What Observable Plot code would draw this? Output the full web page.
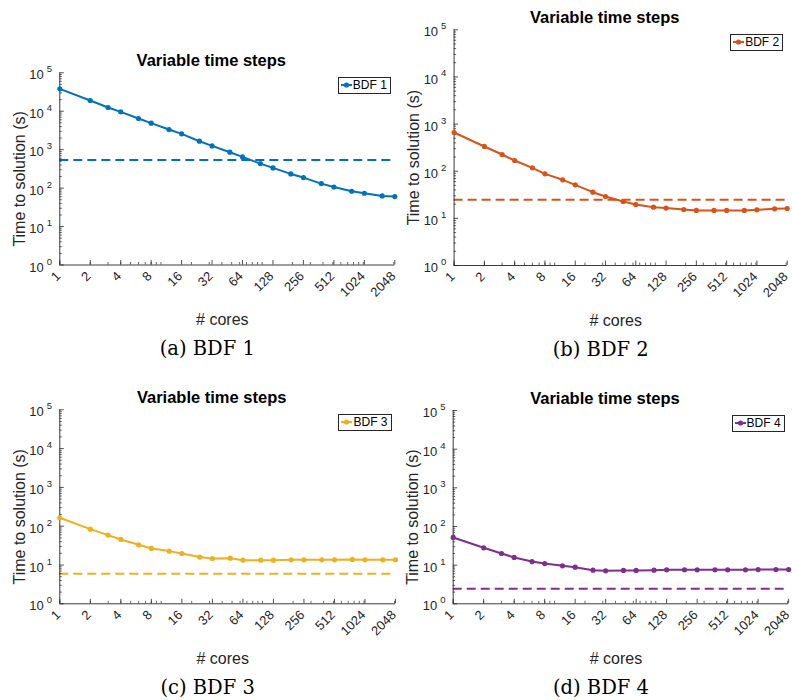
<!DOCTYPE html>
<html><head><meta charset="utf-8">
<script src="https://cdn.jsdelivr.net/npm/d3@7"></script>
<script src="https://cdn.jsdelivr.net/npm/@observablehq/plot@0.6"></script>
<style>
body{margin:0;background:#fff;}
#root{position:relative;width:792px;height:700px;overflow:hidden;font-family:"Liberation Sans",Arial,sans-serif;background:#fff;}
.panel{position:absolute;}
.panel svg{overflow:visible;}
.legend{position:absolute;border:1px solid #262626;background:#fff;font-size:12px;color:#000;display:flex;align-items:center;height:15px;padding:0 3px 0 2px;line-height:15px;white-space:nowrap;}
.legend svg{margin-right:1px;}
</style></head><body><div id="root"></div><script>
// ---- data ----
const cores = [1,2,3,4,6,8,12,16,24,32,48,64,96,128,192,256,384,512,768,1024,1536,2048];
const bdf1 = [38300,19000,12500,9650,6470,4890,3340,2580,1660,1255,859,649,435,336,234,188,131,107,82.8,73.5,62.6,60.2];
const bdf2 = [663,335,226,169,118,88,65.7,51.4,35.9,29.1,22.8,19.7,17.3,16.5,15.4,14.7,14.7,14.7,14.7,15.2,15.9,16.2];
const bdf3 = [165,84,58.9,45.5,33.2,26.7,22.8,19.8,16.0,14.7,15.0,13.3,13.3,13.3,13.6,13.6,13.6,13.6,13.9,13.6,13.6,13.6];
const bdf4 = [52,28.1,20.0,15.8,12.4,11.0,9.6,8.87,7.42,7.13,7.28,7.28,7.42,7.57,7.57,7.57,7.57,7.57,7.57,7.7,7.7,7.7];
const refTimes = [542, 24.7, 5.93, 2.44];
const seriesNames = ["BDF 1","BDF 2","BDF 3","BDF 4"];
const captions = ["(a) BDF 1","(b) BDF 2","(c) BDF 3","(d) BDF 4"];
const xTicks = [1,2,4,8,16,32,64,128,256,512,1024,2048];
const yTicks = [1,10,100,1000,10000,100000];
const titleText = "Variable time steps";
const xLabel = "# cores";
const yLabel = "Time to solution (s)";
const series = [bdf1,bdf2,bdf3,bdf4];

// ---- styles / layout ----
const colors = ["#0072BD","#D95319","#EDB120","#7E2F8E"];
const xMinor = [];
for (const p of [1,10,100,1000]) for (let k=1;k<=9;k++){const v=k*p; if(v>=1&&v<=2048) xMinor.push(v);}
const yMinor = [];
for (const p of [1,10,100,1000,10000]) for (let k=2;k<=9;k++) yMinor.push(k*p);
const layout = [
  {left:0,   top:0,   w:396, h:360, mL:59.3, mR:1.7, mT:72.3, mB:95.5},
  {left:396, top:0,   w:396, h:360, mL:57.6, mR:5.3, mT:29.3, mB:95},
  {left:0,   top:370, w:396, h:330, mL:59.3, mR:1,   mT:39.3, mB:96.7},
  {left:396, top:370, w:396, h:330, mL:56.7, mR:3.9, mT:40,   mB:96.7}
];
const axisColor = "#262626";
const root = document.getElementById("root");

layout.forEach((cfg,i)=>{
  const rows = cores.map((c,j)=>({cores:c, t:series[i][j]}));
  const innerW = cfg.w - cfg.mL - cfg.mR, innerH = cfg.h - cfg.mT - cfg.mB;
  const color = colors[i];
  const chart = Plot.plot({
    width: cfg.w, height: cfg.h,
    marginLeft: cfg.mL, marginRight: cfg.mR, marginTop: cfg.mT, marginBottom: cfg.mB,
    style: {fontFamily: "'Liberation Sans', Arial, sans-serif", fontSize: "13px", color: axisColor, background: "transparent", overflow: "visible"},
    x: {type: "log", domain: [1, 2048], axis: null},
    y: {type: "log", domain: [1, 1e5], axis: null},
    marks: [
      Plot.ruleY([refTimes[i]], {stroke: color, strokeWidth: 2, strokeDasharray: "9,5"}),
      Plot.tickX(xMinor, {x: d=>d, insetTop: innerH - 2.5, stroke: axisColor, strokeWidth: 0.7}),
      Plot.tickX(xTicks, {x: d=>d, insetTop: innerH - 4.5, stroke: axisColor, strokeWidth: 0.8}),
      Plot.tickY(yMinor, {y: d=>d, insetRight: innerW - 2.5, stroke: axisColor, strokeWidth: 0.7}),
      Plot.tickY(yTicks, {y: d=>d, insetRight: innerW - 4.5, stroke: axisColor, strokeWidth: 0.8}),
      Plot.ruleX([1], {stroke: axisColor, strokeWidth: 0.9}),
      Plot.ruleY([1], {stroke: axisColor, strokeWidth: 0.9}),
      Plot.text(xTicks, {x: d=>d, frameAnchor: "bottom", text: d=>String(d), rotate: -45, textAnchor: "end", lineAnchor: "middle", dx: -1.5, dy: 9, fontSize: 13, fill: axisColor}),
      Plot.text(yTicks, {y: d=>d, frameAnchor: "left", text: ()=>"10", textAnchor: "end", lineAnchor: "middle", dx: -16, dy: 2.5, fontSize: 13, fill: axisColor}),
      Plot.text(yTicks, {y: d=>d, frameAnchor: "left", text: d=>String(Math.round(Math.log10(d))), textAnchor: "start", lineAnchor: "middle", dx: -13, dy: -3.5, fontSize: 9.5, fill: axisColor}),
      Plot.line(rows, {x: "cores", y: "t", stroke: color, strokeWidth: 2}),
      Plot.dot(rows, {x: "cores", y: "t", r: 2.6, fill: color, stroke: null}),
      Plot.text([titleText], {frameAnchor: "top", textAnchor: "middle", lineAnchor: "middle", dx: -16, dy: -12, fontWeight: "bold", fontSize: 16.5, fill: "#000"}),
      Plot.text([xLabel], {frameAnchor: "bottom", textAnchor: "middle", lineAnchor: "middle", dx: -5, dy: 55, fontSize: 16, fill: axisColor}),
      Plot.text([yLabel], {frameAnchor: "left", textAnchor: "middle", lineAnchor: "middle", rotate: -90, dx: -40, dy: 10, fontSize: 16, fill: axisColor}),
      Plot.text([captions[i]], {frameAnchor: "bottom", textAnchor: "middle", lineAnchor: "middle", dx: -20, dy: 84, fontSize: 19.5, fontFamily: "'DejaVu Serif', serif", fill: "#000"})
    ]
  });
  const div = document.createElement("div");
  div.className = "panel";
  div.style.left = cfg.left + "px";
  div.style.top = cfg.top + "px";
  div.style.width = cfg.w + "px";
  div.style.height = cfg.h + "px";
  div.appendChild(chart);
  // legend
  const lg = document.createElement("div");
  lg.className = "legend";
  lg.style.right = (cfg.mR + 3.5) + "px";
  lg.style.top = (cfg.mT + 4.5) + "px";
  lg.innerHTML = `<svg width="11" height="8"><line x1="0" x2="11" y1="4" y2="4" stroke="${color}" stroke-width="2"/><circle cx="5.5" cy="4" r="2.6" fill="${color}"/></svg><span>${seriesNames[i]}</span>`;
  div.appendChild(lg);
  root.appendChild(div);
});
</script></body></html>
